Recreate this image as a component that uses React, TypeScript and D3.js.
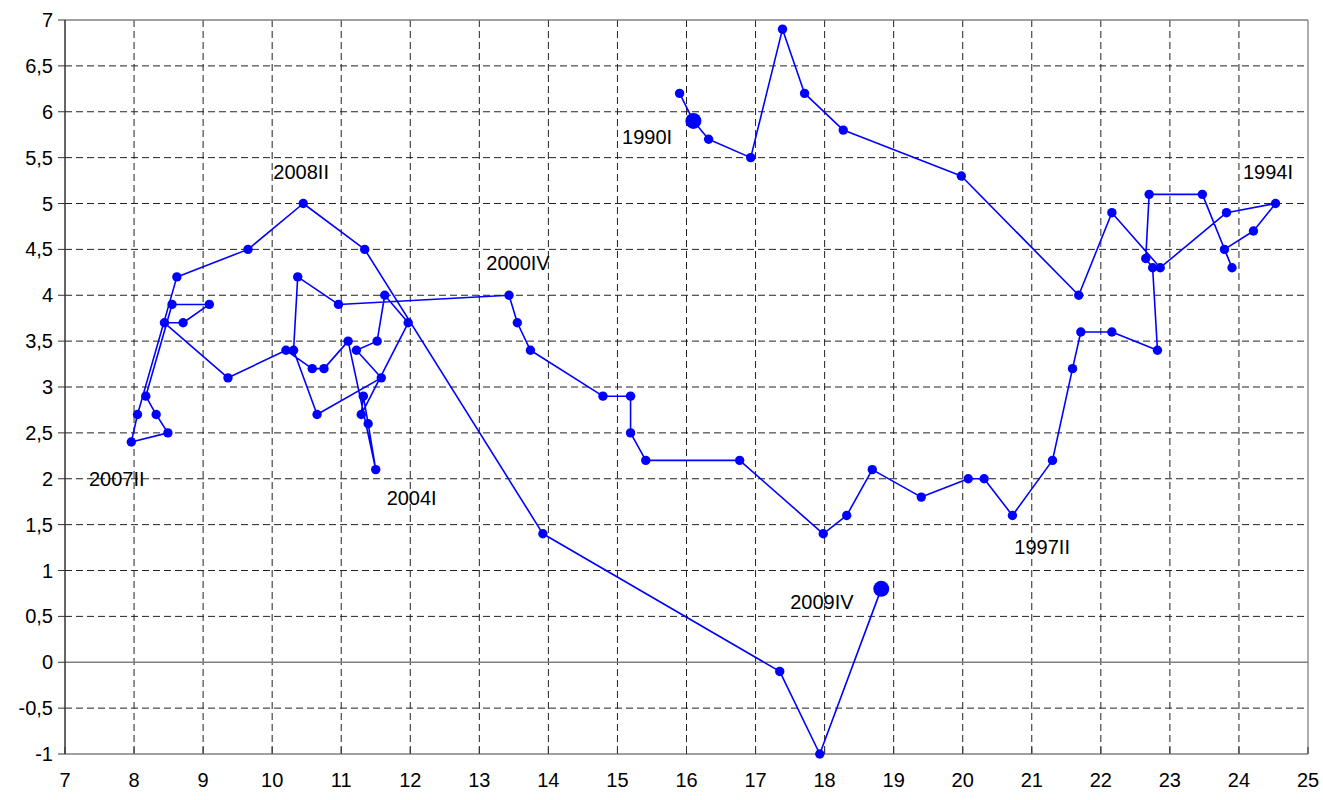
import React from "react";
import * as d3 from "d3";

// Unemployment rate (x) and inflation (y), path order
const unemployment = [
  15.9, 16.1, 16.32, 16.93, 17.39, 17.71, 18.27, 19.98, 21.68, 22.16, 22.86, 23.82, 24.53,
  24.21, 23.79, 23.9, 23.47, 22.7, 22.65, 22.75, 22.82, 22.16, 21.71, 21.59, 21.3, 20.72,
  20.31, 20.08, 19.4, 18.69, 18.32, 17.98, 16.77, 15.41, 15.19, 15.19, 14.79, 13.74, 13.55, 13.43,
  10.96, 10.37, 10.31, 10.65, 11.58, 11.22, 11.52, 11.63, 11.97, 11.29, 11.32, 11.39, 11.5,
  11.1, 10.75, 10.58, 10.2, 9.36, 8.44, 8.71, 9.09, 8.55, 8.17, 8.32, 8.49, 7.96,
  8.05, 8.62, 9.65, 10.45, 11.34, 13.92, 17.35, 17.93, 18.82,
];
const inflation = [
  6.2, 5.9, 5.7, 5.5, 6.9, 6.2, 5.8, 5.3, 4.0, 4.9, 4.3, 4.9, 5.0,
  4.7, 4.5, 4.3, 5.1, 5.1, 4.4, 4.3, 3.4, 3.6, 3.6, 3.2, 2.2, 1.6,
  2.0, 2.0, 1.8, 2.1, 1.6, 1.4, 2.2, 2.2, 2.5, 2.9, 2.9, 3.4, 3.7, 4.0,
  3.9, 4.2, 3.4, 2.7, 3.1, 3.4, 3.5, 4.0, 3.7, 2.7, 2.9, 2.6, 2.1,
  3.5, 3.2, 3.2, 3.4, 3.1, 3.7, 3.7, 3.9, 3.9, 2.9, 2.7, 2.5, 2.4,
  2.7, 4.2, 4.5, 5.0, 4.5, 1.4, -0.1, -1.0, 0.8,
];
const highlightIdx = [1, unemployment.length - 1];

const xTicks = [7, 8, 9, 10, 11, 12, 13, 14, 15, 16, 17, 18, 19, 20, 21, 22, 23, 24, 25];
const yTicks = [-1, -0.5, 0, 0.5, 1, 1.5, 2, 2.5, 3, 3.5, 4, 4.5, 5, 5.5, 6, 6.5, 7];

const labelTexts = ["1990I", "2008II", "2000IV", "1994I", "2007II", "2004I", "1997II", "2009IV"];
const labelX = [15.43, 10.42, 13.56, 24.42, 7.75, 12.02, 21.15, 17.96];
const labelY = [5.72, 5.34, 4.35, 5.34, 2.0, 1.79, 1.26, 0.66];

export default function App() {
  const W = 1323, H = 800;
  const x = d3.scaleLinear().domain([7, 25]).range([65, 1308]);
  const y = d3.scaleLinear().domain([-1, 7]).range([754, 20]);
  const pts = unemployment.map((u, i) => [u, inflation[i]] as [number, number]);
  const line = d3.line<[number, number]>().x((d) => x(d[0])).y((d) => y(d[1]));
  const font = "'Liberation Sans', Arial, sans-serif";
  const fmt = (v: number) => String(v).replace(".", ",");
  const gridColor = "#222";
  const axisColor = "#808080";
  const fs = 20;

  return (
    <div style={{ position: "fixed", left: 0, top: 0 }}>
      <svg width={W} height={H} style={{ display: "block", background: "#fff" }}>
        {xTicks.filter((t) => t > 7 && t < 25).map((t) => (
          <line key={"gx" + t} x1={x(t)} x2={x(t)} y1={y(7)} y2={y(-1)}
            stroke={gridColor} strokeWidth={1} strokeDasharray="7,4" />
        ))}
        {yTicks.filter((t) => t > -1 && t < 7 && t !== 0).map((t) => (
          <line key={"gy" + t} x1={x(7)} x2={x(25)} y1={y(t)} y2={y(t)}
            stroke={gridColor} strokeWidth={1} strokeDasharray="7,4" />
        ))}
        <line x1={x(7)} x2={x(25)} y1={y(0)} y2={y(0)} stroke={axisColor} strokeWidth={1.3} />
        <line x1={x(7)} x2={x(25)} y1={y(7)} y2={y(7)} stroke={axisColor} strokeWidth={1.3} />
        <line x1={x(25)} x2={x(25)} y1={y(7)} y2={y(-1)} stroke={axisColor} strokeWidth={1.3} />
        <line x1={x(7)} x2={x(25)} y1={y(-1)} y2={y(-1)} stroke={axisColor} strokeWidth={1.5} />
        {xTicks.map((t) => (
          <line key={"xt" + t} x1={x(t)} x2={x(t)} y1={y(-1) - 7} y2={y(-1)} stroke="#333" strokeWidth={1} />
        ))}
        {xTicks.map((t) => (
          <text key={"xl" + t} x={x(t)} y={y(-1) + 26} textAnchor="middle" dominantBaseline="central"
            fontFamily={font} fontSize={fs} fill="#000">{t}</text>
        ))}
        <line x1={x(7)} x2={x(7)} y1={y(7)} y2={y(-1)} stroke="#333" strokeWidth={1.5} />
        {yTicks.map((t) => (
          <line key={"yt" + t} x1={x(7) - 7} x2={x(7)} y1={y(t)} y2={y(t)} stroke="#333" strokeWidth={1} />
        ))}
        {yTicks.map((t) => (
          <text key={"yl" + t} x={x(7) - 12} y={y(t)} textAnchor="end" dominantBaseline="central"
            fontFamily={font} fontSize={fs} fill="#000">{fmt(t)}</text>
        ))}
        <path d={line(pts) || ""} fill="none" stroke="#0000FF" strokeWidth={1.6} strokeLinejoin="round" />
        {pts.map((p, i) => (
          <circle key={"p" + i} cx={x(p[0])} cy={y(p[1])} r={4.7} fill="#0000FF" />
        ))}
        {highlightIdx.map((i) => (
          <circle key={"h" + i} cx={x(pts[i][0])} cy={y(pts[i][1])} r={8} fill="#0000FF" />
        ))}
        {labelTexts.map((t, i) => (
          <text key={"a" + t} x={x(labelX[i])} y={y(labelY[i])} textAnchor="middle" dominantBaseline="central"
            fontFamily={font} fontSize={fs} fill="#000">{t}</text>
        ))}
      </svg>
    </div>
  );
}
